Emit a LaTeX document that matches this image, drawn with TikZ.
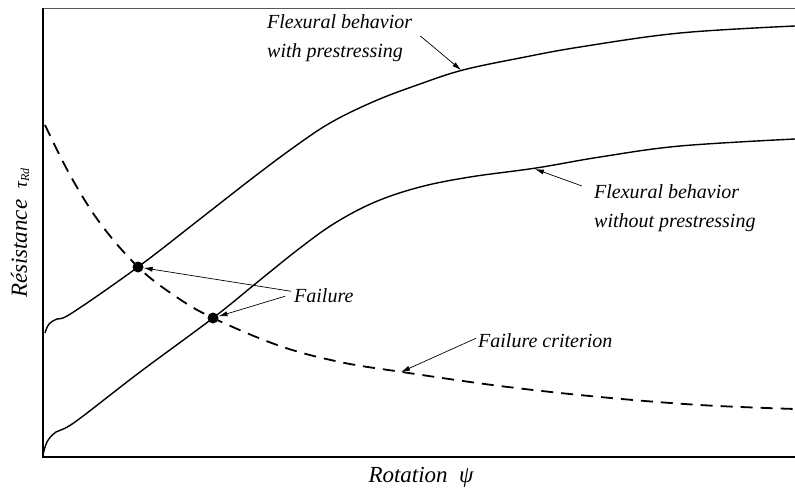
\documentclass[tikz,border=0pt]{standalone}
\usepackage{fontspec}
\setmainfont{Liberation Serif}
\usepackage{tikz}
\usetikzlibrary{arrows.meta}
\tikzset{PX/.style={x=1pt,y=-1pt}}
\tikzset{lbl/.style={font=\fontsize{20}{29}\selectfont\itshape, inner sep=0pt, align=left},
   axlbl/.style={font=\fontsize{23}{28}\selectfont\itshape, inner sep=0pt},
   curve/.style={line width=1.4pt, smooth, tension=0.6},
   pointer/.style={-{Latex[length=9pt,width=5pt]}, line width=0.7pt},
   dot/.style={circle, fill, inner sep=0pt, minimum size=11pt}}

\begin{document}
\begin{tikzpicture}[PX]
\useasboundingbox (0,0) rectangle (795,493);
\draw[line width=0.9pt, gray!70!black] (43,8)--(795,8);
\draw[line width=2pt] (43,8)--(43,457);
\draw[line width=1.6pt] (42,457)--(795,457);

\node[axlbl, rotate=90, anchor=base] (ylab) at (27,233) {R\'esistance \ \fontsize{19}{20}\selectfont τ\fontsize{12}{14}\selectfont\raisebox{-2pt}{Rd}};
\node[axlbl, anchor=base] (xlab) at (421,482) {Rotation\ \ ψ};

% flexural curves
\draw[curve] plot coordinates {(45,333) (49,324) (57,319) (72,313) (138,267) (200,219) (250,180) (290,150) (330,123) (375,101) (420,84) (463,70) (520,58) (580,47) (680,33) (795,26)};
\draw[curve] plot coordinates {(43,455) (47,442) (56,432) (75,422) (140,372) (213,318) (260,280) (300,248) (335,223) (375,202) (420,187) (470,177) (536,168) (600,157) (680,146) (795,139)};
% failure criterion
\draw[curve, line width=1.8pt, dash pattern=on 12pt off 8pt] plot coordinates {(45,125) (70,175) (100,223) (138,267) (175,296) (213,318) (280,346) (340,362) (402,372) (500,386) (600,397) (700,405) (795,409)};

\node[dot] (f1) at (138,267) {};
\node[dot] (f2) at (213,318) {};

\coordinate (c1) at (461,70);
\coordinate (c2) at (535,169);
\coordinate (c3) at (401,372);

\node[lbl, anchor=north west] (t1) at (267,14) {Flexural behavior\\with prestressing};
\node[lbl, anchor=north west] (t2) at (594,184) {Flexural behavior\\without prestressing};
\node[lbl, anchor=north west] (t3) at (294,288) {Failure};
\node[lbl, anchor=north west] (t4) at (478,333) {Failure criterion};

\draw[pointer] (t1.north east) ++(8,22) -- (c1);
\draw[pointer] (t2.north west) ++(-12,2) -- (c2);
\draw[pointer] (t3.west) ++(-3,-4) -- (f1);
\draw[pointer] (t3.west) ++(-9,1) -- (f2);
\draw[pointer] (t4.west) ++(-2,-2) -- (c3);
\end{tikzpicture}
\end{document}
